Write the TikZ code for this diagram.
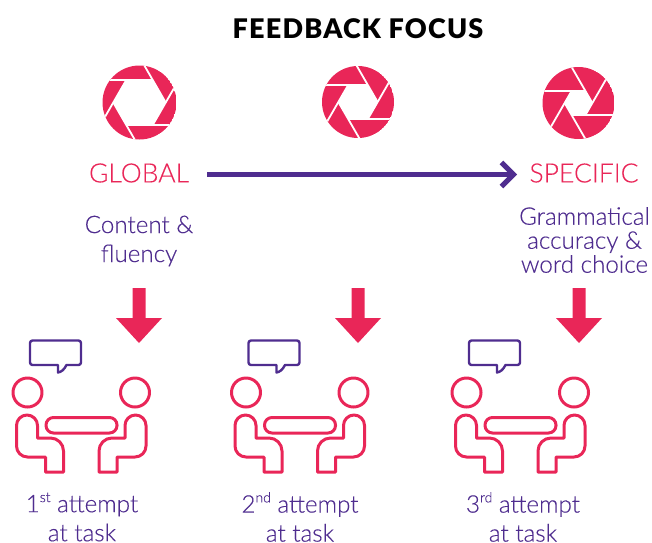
\documentclass[tikz,border=0pt]{standalone}
\usepackage{fontspec}
\setmainfont{Lato Light}[FakeBold=0.25]
\newfontfamily\titlefont{Lato Black}[LetterSpace=4.5]
\definecolor{pink}{HTML}{E92658}
\definecolor{violet}{HTML}{4F2D8F}
\usetikzlibrary{arrows.meta}
\tikzset{
  x=1pt,y=1pt,
  lab/.style={font=\fontsize{24.2}{29}\selectfont, text=violet, align=center, inner sep=0pt},
  tight lab/.style={font=\fontsize{24.2}{24}\selectfont, text=violet, align=center, inner sep=0pt},
  scale label/.style={font=\fontsize{26.5}{30}\selectfont, text=pink, inner sep=0pt},
  seat/.style={draw=pink, line width=3pt, rounded corners=0pt, line join=round},
  bubble/.style={draw=violet, line width=2.4pt, line join=round},
  downarrow/.style={fill=pink, draw=none},
  title/.style={font=\fontsize{27}{30}\selectfont\titlefont, text=black, inner sep=0pt}
}
\newcommand{\sups}[1]{\raisebox{0.42em}{\fontsize{14}{14}\selectfont #1}}
\newcommand{\shutter}[4]{% cx, cy(px), r, a
  \begin{scope}[shift={(#1,-#2)}]
    \begin{scope}
      \clip (0,0) circle (#3);
      \fill[pink] (0,0) circle (#3);
      \fill[white] (60:{#4/cos(30)}) -- (120:{#4/cos(30)}) -- (180:{#4/cos(30)}) -- (240:{#4/cos(30)}) -- (300:{#4/cos(30)}) -- (0:{#4/cos(30)}) -- cycle;
      \foreach \k in {0,60,...,300}
        \draw[white, line width=1.8pt, rotate=\k] ({#4/sqrt(3)},#4) -- (-60,#4);
    \end{scope}
  \end{scope}
}
\newcommand{\team}[1]{% x offset
  \begin{scope}[xshift=#1]
    \draw[seat] (27.5,-392.5) circle (14.5);
    \draw[seat] (135,-392.5) circle (14.5);
    \draw[seat, rounded corners=7.5pt] (46,-417.5) rectangle (117,-433);
    \draw[seat] (37.5,-438) -- (37.5,-425.5) arc (0:180:10.5) -- (16.5,-446)
      arc (180:270:11) -- (45.5,-457) -- (45.5,-472) -- (63.5,-472) -- (63.5,-451)
      arc (0:90:13) -- cycle;
    \draw[seat] (125,-438) -- (125,-425.5) arc (180:0:10.5) -- (146,-446)
      arc (0:-90:11) -- (117,-457) -- (117,-472) -- (99,-472) -- (99,-451)
      arc (180:90:13) -- cycle;
    \draw[bubble] (32.5,-340.5) -- (78.5,-340.5) arc (90:0:2.5) -- (81,-362.5) arc (0:-90:2.5)
      -- (66.5,-365) .. controls (64,-370) and (61,-372) .. (58,-372.5) -- (58,-365)
      -- (32.5,-365) arc (270:180:2.5) -- (30,-343) arc (180:90:2.5) -- cycle;
  \end{scope}
}
\begin{document}
\begin{tikzpicture}
\useasboundingbox (0,0) rectangle (652,-542);
\node[title] (head) at (358,-29) {FEEDBACK FOCUS};
\shutter{139.5}{102.5}{37}{22.7}
\shutter{358}{102}{36}{17}
\shutter{578.5}{103}{36}{12}
\node[scale label] (global) at (139,-173) {GLOBAL};
\node[scale label] (specific) at (584,-173) {SPECIFIC};
\coordinate (arrowstart) at (207,-174.5);
\coordinate (arrowend) at (517,-174.5);
\draw[violet, line width=5pt, -{Straight Barb[length=12pt,width=24pt,line width=5pt]}]
  (arrowstart) -- (arrowend);
\node[lab] (content) at (139,-241) {Content \&\\fluency};
\node[tight lab] (gram) at (584.5,-240) {Grammatical\\accuracy \&\\word choice};
\foreach \x in {139,358,579}
  \fill[downarrow] (\x-6.5,-288) -- (\x+6.5,-288) -- (\x+6.5,-318) -- (\x+23,-318) -- (\x,-343) -- (\x-23,-318) -- (\x-6.5,-318) -- cycle;
\team{0pt}
\team{218.5pt}
\team{439pt}
\node[lab] (a1) at (82,-517) {1\sups{st} attempt\\at task};
\node[lab] (a2) at (300,-517) {2\sups{nd} attempt\\at task};
\node[lab] (a3) at (523,-517) {3\sups{rd} attempt\\at task};
\end{tikzpicture}
\end{document}
